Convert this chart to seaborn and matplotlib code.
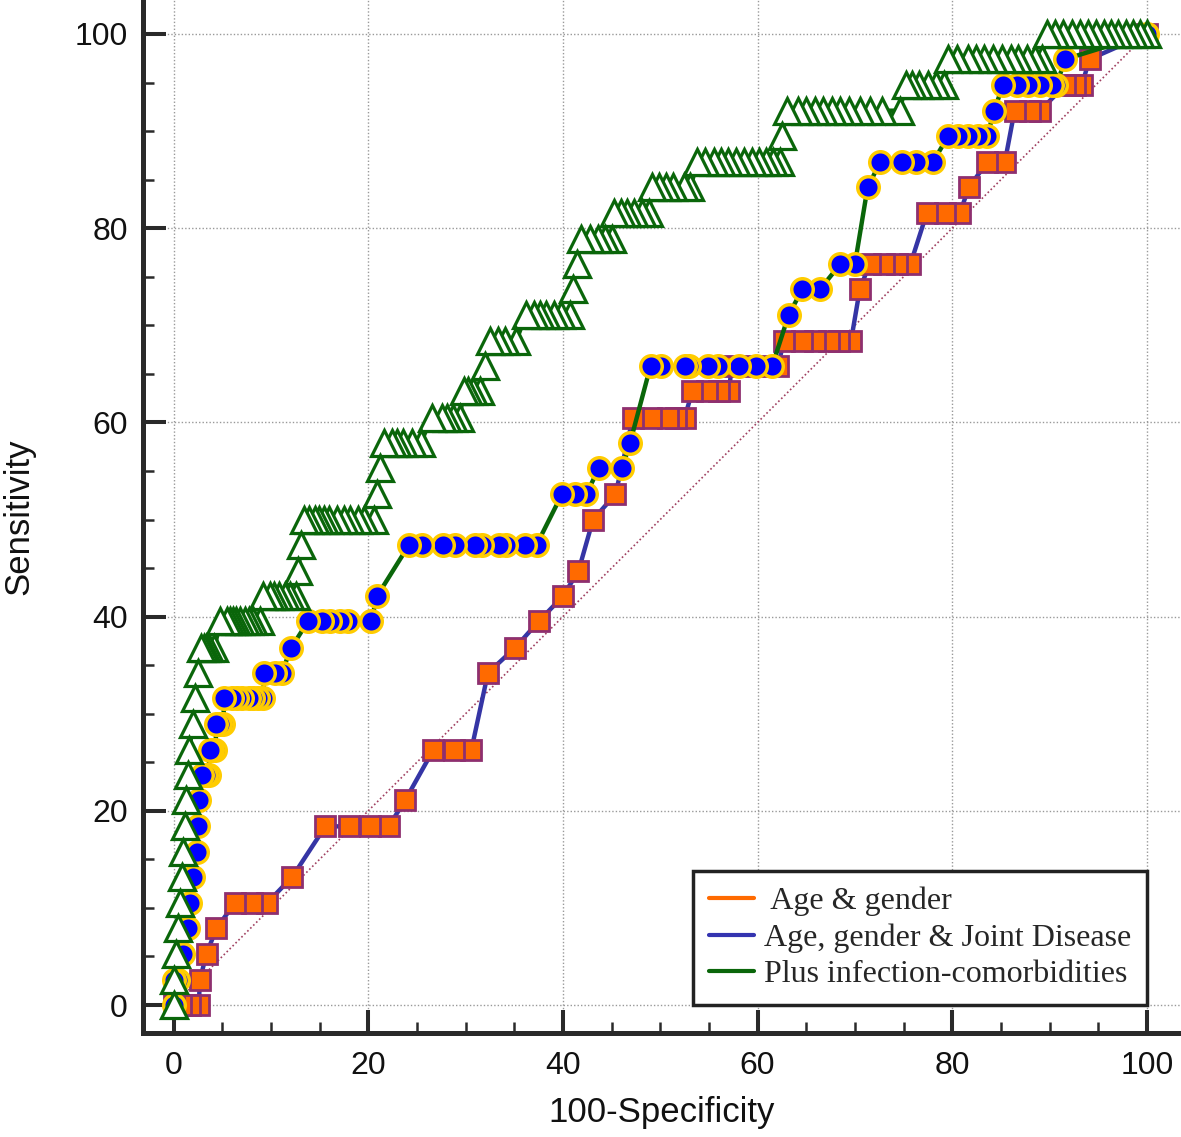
import matplotlib
matplotlib.use("Agg")
import matplotlib.pyplot as plt
from matplotlib.lines import Line2D
from matplotlib.ticker import MultipleLocator
import seaborn as sns

# ROC points (100-Specificity, Sensitivity)
# model 1: Age & gender (orange squares)
sq_fpr = [0, 0.8, 1.7, 2.6,
          2.7,
          3.4,
          4.4,
          6.3, 8.1, 9.6,
          12.2,
          15.6, 18.0, 20.2, 22.1,
          23.8,
          26.7, 28.8, 30.6,
          32.3,
          35.1,
          37.5,
          40.0,
          41.6,
          43.1,
          45.4,
          47.2, 49.0, 50.8, 51.6, 52.5,
          53.3, 54.8, 56.0, 57.1,
          57.3, 59.0, 60.6, 62.1,
          62.7, 64.6, 65.9, 67.3, 68.4, 69.6,
          70.5,
          71.5, 73.0, 74.3, 75.7,
          77.4, 79.3, 80.8,
          81.7,
          83.6, 85.4,
          86.4, 88.0, 89.0,
          91.6, 92.6, 93.3,
          94.1,
          100]
sq_sens = [0, 0, 0, 0,
           2.6,
           5.3,
           7.9,
           10.5, 10.5, 10.5,
           13.2,
           18.4, 18.4, 18.4, 18.4,
           21.1,
           26.3, 26.3, 26.3,
           34.2,
           36.8,
           39.5,
           42.1,
           44.7,
           50.0,
           52.6,
           60.5, 60.5, 60.5, 60.5, 60.5,
           63.2, 63.2, 63.2, 63.2,
           65.8, 65.8, 65.8, 65.8,
           68.4, 68.4, 68.4, 68.4, 68.4, 68.4,
           73.7,
           76.3, 76.3, 76.3, 76.3,
           81.6, 81.6, 81.6,
           84.2,
           86.8, 86.8,
           92.1, 92.1, 92.1,
           94.7, 94.7, 94.7,
           97.4,
           100]

# model 2: Age, gender & Joint Disease (blue circles)
ci_fpr = [0,
          0, 0.5,
          1.0,
          1.5,
          1.7,
          2.0,
          2.4,
          2.5,
          2.6,
          2.9, 3.3, 3.6,
          3.7, 4.0, 4.3,
          4.4, 4.8, 5.1,
          5.2, 6.0, 6.5, 7.0, 7.7, 8.2, 8.7, 9.2,
          9.3, 10.4, 11.1,
          12.1,
          13.8, 15.2, 16.1, 17.1, 17.9, 20.3,
          20.9,
          24.2, 25.5, 27.7, 28.9, 31.0, 31.7, 33.4, 34.2, 36.1, 37.3,
          39.9, 41.2, 42.4,
          43.7, 46.1,
          46.9,
          49.0, 50.1, 52.5, 53.0, 54.9, 55.9, 58.1, 59.8, 61.5,
          63.2,
          64.6, 66.4,
          68.5, 70.0,
          71.3,
          72.6, 74.8, 76.3, 78.0,
          79.6, 80.6, 81.6, 82.6, 83.6,
          84.3,
          85.2, 86.6, 87.8, 89.0, 90.2, 90.7,
          91.6,
          100]
ci_sens = [0,
           2.6, 2.6,
           5.3,
           7.9,
           10.5,
           13.2,
           15.8,
           18.4,
           21.1,
           23.7, 23.7, 23.7,
           26.3, 26.3, 26.3,
           28.9, 28.9, 28.9,
           31.6, 31.6, 31.6, 31.6, 31.6, 31.6, 31.6, 31.6,
           34.2, 34.2, 34.2,
           36.8,
           39.5, 39.5, 39.5, 39.5, 39.5, 39.5,
           42.1,
           47.4, 47.4, 47.4, 47.4, 47.4, 47.4, 47.4, 47.4, 47.4, 47.4,
           52.6, 52.6, 52.6,
           55.3, 55.3,
           57.9,
           65.8, 65.8, 65.8, 65.8, 65.8, 65.8, 65.8, 65.8, 65.8,
           71.1,
           73.7, 73.7,
           76.3, 76.3,
           84.2,
           86.8, 86.8, 86.8, 86.8,
           89.5, 89.5, 89.5, 89.5, 89.5,
           92.1,
           94.7, 94.7, 94.7, 94.7, 94.7, 94.7,
           97.4,
           100]

# model 3: Plus infection-comorbidities (green triangles)
tr_fpr = [0, 0, 0.3, 0.5, 0.7, 0.9, 1.0, 1.2, 1.3, 1.5, 1.6, 2.0, 2.2, 2.5,
          2.8, 3.1, 3.3, 3.6, 4.2,
          4.8, 5.5, 5.8, 6.1, 6.4, 6.8, 7.3, 7.7, 8.2, 8.9,
          9.2, 9.9, 10.3, 10.8, 11.4, 12.0, 12.6,
          12.8,
          13.1,
          13.4, 13.9, 14.5, 14.9, 15.5, 16.0, 16.8, 17.5, 18.1, 18.9, 19.6, 20.6,
          20.9,
          21.2,
          21.6, 22.4, 23.0, 23.6, 24.5, 25.4,
          26.5, 27.6, 28.1, 28.7, 29.4,
          29.8, 30.3, 30.8, 31.5,
          32.0,
          32.5, 33.3, 34.0, 35.2,
          36.2, 37.0, 37.6, 38.3, 39.1, 39.8, 40.7,
          41.0,
          41.4,
          41.9, 42.8, 43.6, 44.3, 45.0,
          45.3, 46.0, 46.6, 47.3, 48.1, 48.8,
          49.2, 49.9, 50.6, 51.3, 52.4, 53.1,
          53.8, 54.6, 55.5, 56.2, 57.0, 57.8, 58.6, 59.4, 60.1, 60.9, 61.6, 62.3,
          62.5,
          63.0, 64.2, 65.0, 65.9, 66.7, 67.6, 68.5, 69.4, 70.5, 71.6, 72.8, 74.6,
          75.2, 75.9, 76.6, 77.5, 78.3, 79.2,
          79.6, 80.5, 81.6, 82.4, 83.3, 84.2, 85.1, 86.0, 86.8, 87.7, 88.5, 89.2,
          89.7, 90.6, 91.4, 92.3, 93.1, 93.9, 94.8, 95.6, 96.3, 97.0, 97.8, 98.6, 99.3, 100]
tr_sens = [0, 2.6, 5.3, 7.9, 10.5, 13.2, 15.8, 18.4, 21.1, 23.7, 26.3, 28.9, 31.6, 34.2,
           36.8, 36.8, 36.8, 36.8, 36.8,
           39.5, 39.5, 39.5, 39.5, 39.5, 39.5, 39.5, 39.5, 39.5, 39.5,
           42.1, 42.1, 42.1, 42.1, 42.1, 42.1, 42.1,
           44.7,
           47.4,
           50.0, 50.0, 50.0, 50.0, 50.0, 50.0, 50.0, 50.0, 50.0, 50.0, 50.0, 50.0,
           52.6,
           55.3,
           57.9, 57.9, 57.9, 57.9, 57.9, 57.9,
           60.5, 60.5, 60.5, 60.5, 60.5,
           63.2, 63.2, 63.2, 63.2,
           65.8,
           68.4, 68.4, 68.4, 68.4,
           71.1, 71.1, 71.1, 71.1, 71.1, 71.1, 71.1,
           73.7,
           76.3,
           78.9, 78.9, 78.9, 78.9, 78.9,
           81.6, 81.6, 81.6, 81.6, 81.6, 81.6,
           84.2, 84.2, 84.2, 84.2, 84.2, 84.2,
           86.8, 86.8, 86.8, 86.8, 86.8, 86.8, 86.8, 86.8, 86.8, 86.8, 86.8, 86.8,
           89.5,
           92.1, 92.1, 92.1, 92.1, 92.1, 92.1, 92.1, 92.1, 92.1, 92.1, 92.1, 92.1,
           94.7, 94.7, 94.7, 94.7, 94.7, 94.7,
           97.4, 97.4, 97.4, 97.4, 97.4, 97.4, 97.4, 97.4, 97.4, 97.4, 97.4, 97.4,
           100, 100, 100, 100, 100, 100, 100, 100, 100, 100, 100, 100, 100, 100]

diag = [0, 100]
legend_labels = [" Age & gender", "Age, gender & Joint Disease", "Plus infection-comorbidities"]
legend_colors = ["#ff6a00", "#3434b0", "#0a660a"]

sns.set_style("white")
plt.rcParams['font.family'] = ['Liberation Sans', 'DejaVu Sans']

fig = plt.figure(figsize=(11.81, 11.37), dpi=100)
ax = fig.add_axes([143 / 1181, 104 / 1137, 1038 / 1181, 1033 / 1137])

# chance line
sns.lineplot(x=diag, y=diag, ax=ax, estimator=None, sort=False,
             color="#a04060", linewidth=1.2, linestyle=(0, (1, 1.5)), zorder=1)

# points drawn from the top end down, so the left marker of a run sits on top
sns.lineplot(x=sq_fpr[::-1], y=sq_sens[::-1], ax=ax, estimator=None, sort=False,
             color="#3535a5", linewidth=3.2, marker="s", markersize=15,
             markerfacecolor="#ff6a00", markeredgecolor="#8e2f6f",
             markeredgewidth=2, zorder=3)
sns.lineplot(x=ci_fpr[::-1], y=ci_sens[::-1], ax=ax, estimator=None, sort=False,
             color="#0a660a", linewidth=3.2, marker="o", markersize=15.5,
             markerfacecolor="#0000ff", markeredgecolor="#ffcc00",
             markeredgewidth=2.5, zorder=4)
sns.lineplot(x=tr_fpr[::-1], y=tr_sens[::-1], ax=ax, estimator=None, sort=False,
             color="#0a660a", linewidth=3.2, marker="^", markersize=19,
             markerfacecolor="white", markeredgecolor="#0a660a",
             markeredgewidth=2.3, zorder=5)

ax.set_xlim(-3.14, 103.5)
ax.set_ylim(-2.88, 103.5)
ax.xaxis.set_major_locator(MultipleLocator(20))
ax.yaxis.set_major_locator(MultipleLocator(20))
ax.xaxis.set_minor_locator(MultipleLocator(5))
ax.yaxis.set_minor_locator(MultipleLocator(5))

ax.grid(True, which="major", color="#999999", linestyle=(0, (1, 1.5)), linewidth=1)
ax.set_axisbelow(True)

for side in ["top", "right"]:
    ax.spines[side].set_visible(False)
for side in ["left", "bottom"]:
    ax.spines[side].set_linewidth(3.6)
    ax.spines[side].set_color("#2a2a2a")

ax.tick_params(which="both", bottom=True, left=True, top=False, right=False)
ax.tick_params(which="major", direction="in", length=16.5, width=2.9,
               color="#2a2a2a", labelsize=23, labelcolor="#111111")
ax.tick_params(which="minor", direction="in", length=8, width=1.8, color="#2a2a2a")
ax.tick_params(axis="x", which="major", pad=13)
ax.tick_params(axis="y", which="major", pad=11)

ax.set_xlabel("100-Specificity", fontsize=25, color="#111111")
ax.set_ylabel("Sensitivity", fontsize=25, color="#111111")
ax.xaxis.label.set_va("center")
ax.yaxis.label.set_va("center")
ax.xaxis.set_label_coords(0.5, -0.0765)
ax.yaxis.set_label_coords(-0.120, 0.5)

handles = [Line2D([0], [0], color=c, linewidth=3) for c in legend_colors]
leg = ax.legend(handles, legend_labels, loc="lower right",
                bbox_to_anchor=(0.967, 0.027), borderaxespad=0,
                prop={"family": ["Liberation Serif", "DejaVu Serif"], "size": 23},
                frameon=True, fancybox=False, framealpha=1, edgecolor="#222222",
                handlelength=1.4, handletextpad=0.3, borderpad=0.5,
                labelspacing=0.22)
leg.get_frame().set_linewidth(2.5)
leg.set_zorder(10)

fig.savefig("out.png", dpi=100)
